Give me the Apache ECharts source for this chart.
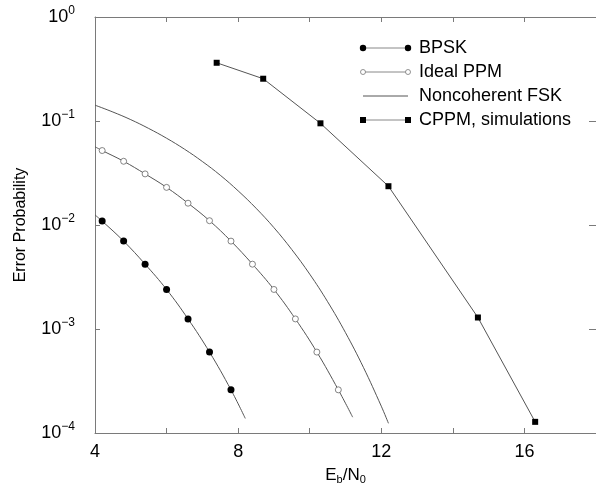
<!DOCTYPE html>
<html>
<head>
<meta charset="utf-8">
<script src="https://cdn.jsdelivr.net/npm/echarts@6/dist/echarts.min.js"></script>
<style>
html,body{margin:0;padding:0;background:#fff;}
#chart{width:596px;height:489px;}
</style>
</head>
<body>
<div id="chart"></div>
<script>
// ---- data ----
const xTicks = [4, 8, 12, 16];

// BPSK: smooth curve and simulated markers
const bpskCurveX = [4.0, 4.2, 4.8, 5.4, 6.0, 6.6, 7.2, 7.8, 8.2];
const bpskCurveY = [0.0125, 0.0109, 0.0070, 0.0042, 0.0024, 0.00125, 0.0006, 0.00026, 0.000138];
const bpskPointX = [4.2, 4.8, 5.4, 6.0, 6.6, 7.2, 7.8];
const bpskPointY = [0.0109, 0.0070, 0.0042, 0.0024, 0.00125, 0.0006, 0.00026];

// Ideal PPM
const ppmCurveX = [4.0, 4.2, 4.8, 5.4, 6.0, 6.6, 7.2, 7.8, 8.4, 9.0, 9.6, 10.2, 10.8, 11.2];
const ppmCurveY = [0.0565, 0.052, 0.041, 0.031, 0.023, 0.0162, 0.011, 0.0070, 0.0042, 0.0024, 0.00125, 0.0006, 0.00026, 0.000142];
const ppmPointX = [4.2, 4.8, 5.4, 6.0, 6.6, 7.2, 7.8, 8.4, 9.0, 9.6, 10.2, 10.8];
const ppmPointY = [0.052, 0.041, 0.031, 0.023, 0.0162, 0.011, 0.0070, 0.0042, 0.0024, 0.00125, 0.0006, 0.00026];

// Noncoherent FSK
const fskX = [4.0, 4.5, 5.0, 5.5, 6.0, 6.5, 7.0, 7.5, 8.0, 8.5, 9.0, 9.5, 10.0, 10.5, 11.0, 11.5, 12.0, 12.2];
const fskY = [0.142, 0.122, 0.103, 0.0848, 0.0683, 0.0536, 0.0408, 0.0301, 0.0213, 0.0145, 0.00943, 0.0058, 0.00337, 0.00183, 0.000922, 0.000428, 0.000181, 0.000124];

// CPPM simulations
const cppmX = [7.4, 8.7, 10.3, 12.2, 14.7, 16.3];
const cppmY = [0.363, 0.255, 0.095, 0.0236, 0.00129, 0.000128];

const legendNames = ['BPSK', 'Ideal PPM', 'Noncoherent FSK', 'CPPM, simulations'];
const xName = ['E', 'b', '/N', '0'];
const yName = 'Error Probability';

// ---- chart ----
const zip = (xs, ys) => xs.map((x, i) => [x, ys[i]]);
const FONT = 'Liberation Sans, Arial, sans-serif';
const AXIS = '#7a7a7a';
const LINE = '#555555';

const chart = echarts.init(document.getElementById('chart'), null, {renderer: 'canvas'});

const gridL = 95, gridT = 17, gridR = 0, gridB = 56;

function yLabel(v) {
  const e = Math.round(Math.log10(v));
  return '{b|10}{s|' + (e === 0 ? '0' : '\u2212' + (-e)) + '}';
}

// legend drawn with graphic primitives
const legX1 = 363, legX2 = 408, legTextX = 419, legY0 = 48, legDy = 24;
const legend = [];
legendNames.forEach((name, i) => {
  const y = legY0 + i * legDy;
  legend.push({type: 'line', shape: {x1: legX1, y1: y, x2: legX2, y2: y}, style: {stroke: (i===2?LINE:'#888'), lineWidth: 1}});
  if (i === 0) {
    legend.push({type: 'circle', shape: {cx: legX1, cy: y, r: 3.2}, style: {fill: '#000'}});
    legend.push({type: 'circle', shape: {cx: legX2, cy: y, r: 3.2}, style: {fill: '#000'}});
  } else if (i === 1) {
    legend.push({type: 'circle', shape: {cx: legX1, cy: y, r: 2.5}, style: {fill: '#fff', stroke: '#777', lineWidth: 0.8}});
    legend.push({type: 'circle', shape: {cx: legX2, cy: y, r: 2.5}, style: {fill: '#fff', stroke: '#777', lineWidth: 0.8}});
  } else if (i === 3) {
    legend.push({type: 'rect', shape: {x: legX1 - 3, y: y - 3, width: 6, height: 6}, style: {fill: '#000'}});
    legend.push({type: 'rect', shape: {x: legX2 - 3, y: y - 3, width: 6, height: 6}, style: {fill: '#000'}});
  }
  legend.push({type: 'text', x: legTextX, y: y, style: {text: name, fill: '#000', font: '18px ' + FONT, verticalAlign: 'middle', align: 'left'}});
});

const option = {
  animation: false,
  backgroundColor: '#fff',
  grid: {left: gridL, top: gridT, right: gridR, bottom: gridB, containLabel: false, outerBoundsMode: 'none'},
  xAxis: [{
    type: 'value', min: 4, max: 18, interval: 2,
    name: '{a|' + xName[0] + '}{sub|' + xName[1] + '}{a|' + xName[2] + '}{sub|' + xName[3] + '}',
    nameLocation: 'middle', nameGap: 32,
    nameTextStyle: {rich: {a: {fontSize: 17, fontFamily: FONT, color: '#000'}, sub: {fontSize: 11, fontFamily: FONT, color: '#000', padding: [9, 0, 0, 0]}}},
    axisLine: {lineStyle: {color: AXIS, width: 1}},
    axisTick: {inside: true, length: 5, lineStyle: {color: AXIS}},
    splitLine: {show: false},
    axisLabel: {color: '#000', fontSize: 18, fontFamily: FONT, margin: 10,
      formatter: v => (xTicks.indexOf(v) >= 0 ? String(v) : '')}
  }, {
    type: 'value', min: 4, max: 18, interval: 2, position: 'top',
    axisLine: {show: true, lineStyle: {color: AXIS, width: 1}},
    axisTick: {inside: true, length: 5, lineStyle: {color: AXIS}},
    axisLabel: {show: false}, splitLine: {show: false}
  }],
  yAxis: [{
    type: 'log', logBase: 10, min: 1e-4, max: 1,
    name: yName, nameLocation: 'middle', nameGap: 66,
    nameTextStyle: {fontSize: 16, fontFamily: FONT, color: '#000'},
    axisLine: {show: true, lineStyle: {color: AXIS, width: 1}},
    axisTick: {show: true, inside: true, length: 5, lineStyle: {color: AXIS}},
    splitLine: {show: false},
    axisLabel: {margin: 20, formatter: yLabel,
      rich: {b: {fontSize: 18, fontFamily: FONT, color: '#000'}, s: {fontSize: 12, fontFamily: FONT, color: '#000', padding: [0, 0, 12, 0]}}}
  }, {
    type: 'log', logBase: 10, min: 1e-4, max: 1, position: 'right',
    axisLine: {show: true, lineStyle: {color: AXIS, width: 1}},
    axisTick: {show: true, inside: true, length: 7, lineStyle: {color: AXIS}},
    axisLabel: {show: false}, splitLine: {show: false}
  }],
  graphic: legend,
  series: [
    {type: 'line', data: zip(bpskCurveX, bpskCurveY), smooth: 0.4, showSymbol: false,
      lineStyle: {color: LINE, width: 1}, z: 2},
    {type: 'scatter', data: zip(bpskPointX, bpskPointY), symbol: 'circle', symbolSize: 7,
      itemStyle: {color: '#000', opacity: 1}, z: 3},
    {type: 'line', data: zip(ppmCurveX, ppmCurveY), smooth: 0.4, showSymbol: false,
      lineStyle: {color: LINE, width: 1}, z: 2},
    {type: 'scatter', data: zip(ppmPointX, ppmPointY), symbol: 'circle', symbolSize: 6,
      itemStyle: {color: '#fff', borderColor: '#666', borderWidth: 0.8, opacity: 1}, z: 3},
    {type: 'line', data: zip(fskX, fskY), smooth: 0.4, showSymbol: false,
      lineStyle: {color: LINE, width: 1}, z: 2},
    {type: 'line', data: zip(cppmX, cppmY), smooth: false, symbol: 'rect', symbolSize: 6,
      lineStyle: {color: LINE, width: 1}, itemStyle: {color: '#000'}, z: 3}
  ]
};
chart.setOption(option);
</script>
</body>
</html>
